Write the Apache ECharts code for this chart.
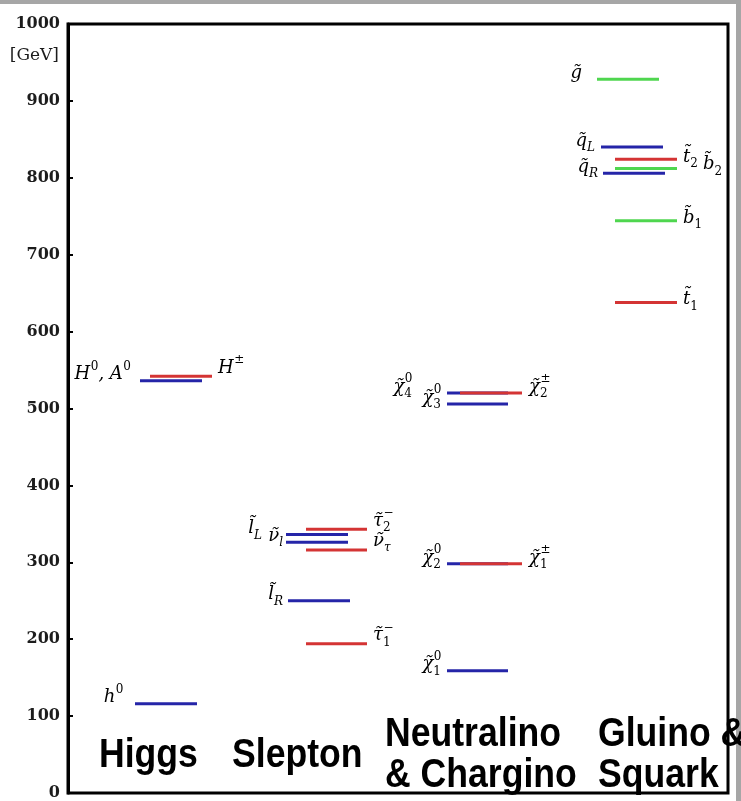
<!DOCTYPE html>
<html>
<head>
<meta charset="utf-8">
<script src="https://cdn.jsdelivr.net/npm/echarts@6/dist/echarts.min.js"></script>
<style>
html, body { margin: 0; padding: 0; background: #fff; }
#main { width: 741px; height: 801px; }
</style>
</head>
<body>
<div id="main"></div>
<script>
// column titles
var groupTitles = [['Higgs'], ['Slepton'], ['Neutralino', '& Chargino'], ['Gluino &', 'Squark']];

// particle names (~x = tilde, ^ = superscript, _ = subscript) and masses [GeV]
var higgsNames = ['h^0', 'H^0, A^0', 'H^±'];
var higgsMass = [116, 536, 542];

var sleptonNames = ['~l_L', '~ν_l', '~l_R', '~τ^−_2', '~ν_τ', '~τ^−_1'];
var sleptonMass = [336, 326, 250, 343, 316, 194];

var neutralinoNames = ['~χ^0_4', '~χ^0_3', '~χ^0_2', '~χ^0_1'];
var neutralinoMass = [520, 506, 298, 159];

var charginoNames = ['~χ^±_2', '~χ^±_1'];
var charginoMass = [520, 298];

var squarkNames = ['~g', '~q_L', '~q_R', '~t_2', '~b_2', '~b_1', '~t_1'];
var squarkMass = [928, 840, 806, 824, 812, 744, 638];

var yTicks = { min: 0, max: 1000, step: 100 };

// drawing layout: x span (px from the left axis), colour, label side, label offsets
var BLUE = '#2525a8', RED = '#d43434', GREEN = '#4fd64f';
var higgsLayout = [
	{ x: [67, 129], c: BLUE, side: 'left', gap: 12 },
	{ x: [72, 134], c: BLUE, side: 'left', gap: 10 },
	{ x: [82, 144], c: RED, side: 'right', gap: 6, dy: -2 }
];
var sleptonLayout = [
	{ x: [218, 280], c: BLUE, side: 'left', gap: 24 },
	{ x: [218, 280], c: BLUE, side: 'left', gap: 3 },
	{ x: [220, 282], c: BLUE, side: 'left', gap: 5 },
	{ x: [238, 299], c: RED, side: 'right', gap: 6, dy: -2 },
	{ x: [238, 299], c: RED, side: 'right', gap: 6, dy: -3 },
	{ x: [238, 299], c: RED, side: 'right', gap: 6, dy: -2 }
];
var neutralinoLayout = [
	{ x: [379, 440], c: BLUE, side: 'left', gap: 35 },
	{ x: [379, 440], c: BLUE, side: 'left', gap: 6 },
	{ x: [379, 440], c: BLUE, side: 'left', gap: 6 },
	{ x: [379, 440], c: BLUE, side: 'left', gap: 6 }
];
var charginoLayout = [
	{ x: [392, 454], c: RED, side: 'right', gap: 7 },
	{ x: [392, 454], c: RED, side: 'right', gap: 7 }
];
var squarkLayout = [
	{ x: [529, 591], c: GREEN, side: 'left', gap: 15 },
	{ x: [533, 595], c: BLUE, side: 'left', gap: 6 },
	{ x: [535, 597], c: BLUE, side: 'left', gap: 5 },
	{ x: [547, 609], c: RED, side: 'right', gap: 6, dy: 4 },
	{ x: [547, 609], c: GREEN, side: 'right', gap: 26, dy: 2 },
	{ x: [547, 609], c: GREEN, side: 'right', gap: 6, dy: 3 },
	{ x: [547, 609], c: RED, side: 'right', gap: 6, dy: 3 }
];

var groups = [
	{ names: higgsNames, mass: higgsMass, layout: higgsLayout },
	{ names: sleptonNames, mass: sleptonMass, layout: sleptonLayout },
	{ names: neutralinoNames, mass: neutralinoMass, layout: neutralinoLayout },
	{ names: charginoNames, mass: charginoMass, layout: charginoLayout },
	{ names: squarkNames, mass: squarkMass, layout: squarkLayout }
];

var MAIN_FONT = 'italic 18px "DejaVu Serif"';
var SCRIPT_IT = 'italic 12px "DejaVu Serif"';
var SCRIPT_UP = '12px "DejaVu Serif"';

var mctx = document.createElement('canvas').getContext('2d');
function textWidth(s, font) {
	mctx.font = font;
	return mctx.measureText(s).width;
}

// split 'x^a_b' style names into pieces {t, sup, sub}
function parseName(s) {
	var pieces = [];
	var cur = { t: '', sup: '', sub: '' };
	var i = 0;
	while (i < s.length) {
		var ch = s[i];
		if (ch === '^' || ch === '_') {
			if (ch === '^') cur.sup = s[i + 1]; else cur.sub = s[i + 1];
			i += 2;
			continue;
		}
		if (cur.sup || cur.sub) {
			pieces.push(cur);
			cur = { t: '', sup: '', sub: '' };
		}
		if (ch === '~') {
			cur.t += s[i + 1] + '\u0303';
			i += 2;
		} else {
			cur.t += ch;
			i++;
		}
	}
	pieces.push(cur);
	return pieces;
}

function scriptFont(s) {
	return /[A-Za-zτ]/.test(s) ? SCRIPT_IT : SCRIPT_UP;
}

function labelWidth(pieces) {
	var w = 0;
	for (var i = 0; i < pieces.length; i++) {
		var p = pieces[i];
		w += textWidth(p.t, MAIN_FONT);
		w += Math.max(p.sup ? textWidth(p.sup, scriptFont(p.sup)) : 0, p.sub ? textWidth(p.sub, scriptFont(p.sub)) : 0);
	}
	return w;
}

function textEl(str, x, y, font) {
	return {
		type: 'text',
		x: x,
		y: y,
		style: { text: str, font: font, fill: '#000', align: 'left', verticalAlign: 'middle', textAlign: 'left', textVerticalAlign: 'middle' }
	};
}

function labelEls(pieces, x, base) {
	// base = baseline of main text
	var els = [];
	var yc = base - 6;
	for (var i = 0; i < pieces.length; i++) {
		var p = pieces[i];
		if (p.t) {
			els.push(textEl(p.t, x, yc, MAIN_FONT));
			x += textWidth(p.t, MAIN_FONT);
		}
		var sw = 0;
		if (p.sup) {
			els.push(textEl(p.sup, x + 0.5, yc - 8, scriptFont(p.sup)));
			sw = Math.max(sw, textWidth(p.sup, scriptFont(p.sup)) + 0.5);
		}
		if (p.sub) {
			els.push(textEl(p.sub, x, yc + 7, scriptFont(p.sub)));
			sw = Math.max(sw, textWidth(p.sub, scriptFont(p.sub)));
		}
		x += sw;
	}
	return els;
}

var series = groups.map(function(g) {
	var data = [];
	for (var i = 0; i < g.mass.length; i++) {
		data.push([g.layout[i].x[0], g.layout[i].x[1], g.mass[i]]);
	}
	return {
		type: 'custom',
		data: data,
		dimensions: ['x1', 'x2', 'mass'],
		encode: { x: [0, 1], y: 2 },
		silent: true,
		renderItem: function(params, api) {
			var lay = g.layout[params.dataIndex];
			var p1 = api.coord([api.value(0), api.value(2)]);
			var p2 = api.coord([api.value(1), api.value(2)]);
			var pieces = parseName(g.names[params.dataIndex]);
			var w = labelWidth(pieces);
			var lx = lay.side === 'left' ? p1[0] - lay.gap - w : p2[0] + lay.gap;
			var children = [{
				type: 'line',
				shape: { x1: p1[0], y1: p1[1], x2: p2[0], y2: p2[1] },
				style: { stroke: lay.c, lineWidth: 3 }
			}];
			return { type: 'group', children: children.concat(labelEls(pieces, lx, p1[1] + (lay.dy || 0))) };
		}
	};
});

var titleEls = [];
var titleLeft = [99, 232, 385, 598];
var titleRows = [[756], [756], [735, 776], [735, 776]];
for (var t = 0; t < groupTitles.length; t++) {
	for (var r = 0; r < groupTitles[t].length; r++) {
		titleEls.push({
			type: 'text',
			x: titleLeft[t],
			y: titleRows[t][r],
			scaleX: 0.89,
			z: 10,
			style: {
				text: groupTitles[t][r],
				font: 'bold 40px "Liberation Sans"',
				fill: '#000',
				textAlign: 'left',
				textVerticalAlign: 'middle',
				shadowColor: 'rgba(0,0,0,0.45)',
				shadowBlur: 3,
				shadowOffsetX: 2,
				shadowOffsetY: 2
			}
		});
	}
}

var myChart = echarts.init(document.getElementById('main'));
var option = {
	backgroundColor: '#fff',
	animation: false,
	grid: {
		left: 68, right: 13, top: 24, bottom: 4,
		show: true, borderColor: '#000', borderWidth: 3, backgroundColor: 'transparent'
	},
	xAxis: { type: 'value', min: 0, max: 660, show: false },
	yAxis: {
		type: 'value',
		min: yTicks.min,
		max: yTicks.max,
		interval: yTicks.step,
		splitLine: { show: false },
		axisLine: { show: true, lineStyle: { color: '#000', width: 3 } },
		axisTick: { show: true, inside: true, length: 5, lineStyle: { color: '#000', width: 2 } },
		axisLabel: {
			margin: 8,
			color: '#1c1c1c',
			fontFamily: 'DejaVu Serif',
			fontWeight: 'bold',
			fontSize: 16,
			padding: [0, 0, 8, 0],
			formatter: function(v) { return String(v); }
		}
	},
	graphic: [
		{ type: 'rect', left: 0, top: 0, z: -10, shape: { width: 741, height: 4 }, style: { fill: '#a6a6a6' } },
		{ type: 'rect', left: 736, top: 0, z: -10, shape: { width: 5, height: 801 }, style: { fill: '#a6a6a6' } },
		{
			type: 'text', x: 59, y: 56,
			style: { text: '[GeV]', font: '17px "DejaVu Serif"', fill: '#1c1c1c', textAlign: 'right', textVerticalAlign: 'middle' }
		}
	].concat(titleEls),
	series: series
};
myChart.setOption(option);
</script>
</body>
</html>
